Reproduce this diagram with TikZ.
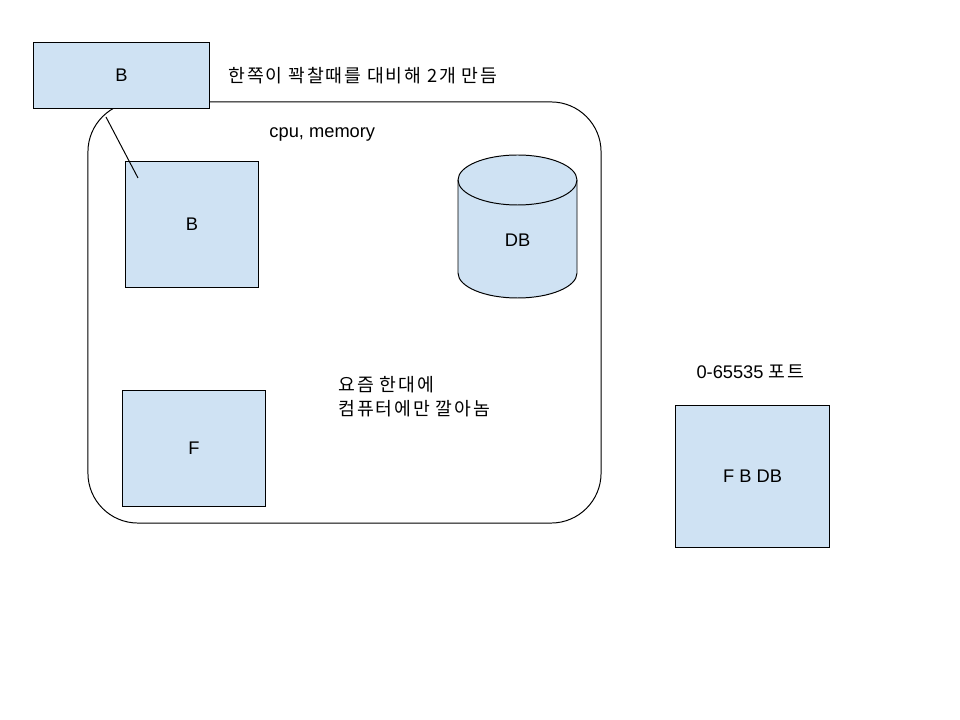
\documentclass[tikz,border=0pt]{standalone}
\usepackage{fontspec}
\setmainfont{Liberation Sans}
\newfontfamily\kr[LetterSpace=10]{Noto Sans CJK KR}
\usepackage{tikz}
\usetikzlibrary{positioning}
\definecolor{boxblue}{HTML}{CFE2F3}

\begin{document}
\begin{tikzpicture}[
    x=0.025cm, y=-0.025cm,
    line width=0.7pt,
    box/.style={rectangle, draw, fill=boxblue, inner sep=0pt, align=center, font=\fontsize{13}{16}\selectfont},
    note/.style={anchor=west, inner sep=0pt, align=left, font=\fontsize{13}{17}\selectfont}
]
\useasboundingbox (0,0) rectangle (960,720);

% Server machine
\node[draw, rounded corners=1.25cm, minimum width=12.825cm, minimum height=10.525cm, inner sep=0pt] (server) at (344.5,312.5) {};

% Boxes
\node[box, minimum width=4.375cm, minimum height=1.625cm] (backup) at (121.5,75.5) {B};
\node[box, minimum width=3.3cm, minimum height=3.125cm] (back) at (192,224.5) {B};
\node[box, minimum width=3.55cm, minimum height=2.875cm] (front) at (194,448.5) {F};
\node[box, minimum width=3.825cm, minimum height=3.525cm] (all) at (752.5,476.5) {F B DB};

% Database
\filldraw[fill=boxblue] (458,180) -- (458,273) arc[start angle=180, end angle=0, x radius=59.5, y radius=25]
    -- (577,180) arc[start angle=0, end angle=-180, x radius=59.5, y radius=25] -- cycle;
\draw (458,180) arc[start angle=180, end angle=0, x radius=59.5, y radius=25];
\node[font=\fontsize{13}{16}\selectfont] (db) at (517.5,240) {DB};

% Notes
\node[note] (spare) at (228,76) {\kr 한쪽이 꽉찰때를 대비해 2개 만듬};
\node[note] (res) at (269,134) {cpu, memory};
\node[note] (today) at (338,397) {\kr 요즘 한대에\\\kr 컴퓨터에만 깔아놈};
\node[note] (ports) at (696,372) {0-65535 {\kr 포트}};

% Link
\coordinate (linkA) at (106,117);
\coordinate (linkB) at (138,178);
\draw (linkA) -- (linkB);

\end{tikzpicture}
\end{document}
